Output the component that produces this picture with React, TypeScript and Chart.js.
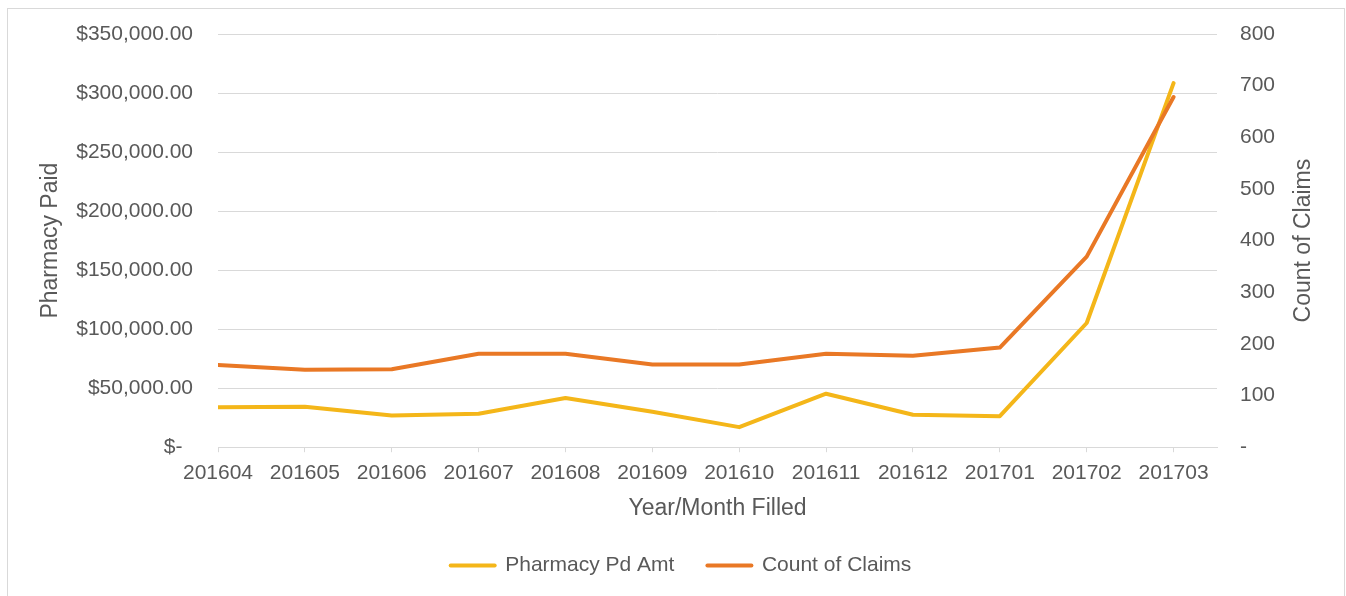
import React, { useEffect, useRef } from 'react';
import { Chart, registerables } from 'chart.js';

Chart.register(...registerables);

// ---- data ----
const months = ['201604', '201605', '201606', '201607', '201608', '201609', '201610', '201611', '201612', '201701', '201702', '201703'];
const pharmacyPdAmt = [33900, 34300, 26900, 28300, 41600, 30000, 17000, 45300, 27500, 26300, 105200, 308400];
const countOfClaims = [159, 150, 151, 181, 181, 160, 160, 181, 177, 193, 369, 678];
const leftAxisMax = 350000;
const leftAxisStep = 50000;
const rightAxisMax = 800;
const rightAxisStep = 100;

const FONT = "'Liberation Sans', Arial, sans-serif";
const TEXT = '#595959';
const GRID = '#D9D9D9';
const YELLOW = '#F4B619';
const ORANGE = '#E97825';

const fmtMoney = (v: number) =>
  v === 0 ? '$-\u2002' : '$' + v.toLocaleString('en-US', { minimumFractionDigits: 2, maximumFractionDigits: 2 });

export default function App() {
  const ref = useRef<HTMLCanvasElement>(null);

  useEffect(() => {
    const rightTitle = {
      id: 'rightTitle',
      afterDraw(chart: any) {
        const { ctx, chartArea } = chart;
        ctx.save();
        ctx.translate(1304, (chartArea.top + chartArea.bottom) / 2);
        ctx.rotate(-Math.PI / 2);
        ctx.font = `23px ${FONT}`;
        ctx.fillStyle = TEXT;
        ctx.textAlign = 'center';
        ctx.textBaseline = 'middle';
        ctx.fillText('Count of Claims', 0, 0);
        ctx.restore();
      },
    };

    const chart = new Chart(ref.current as HTMLCanvasElement, {
      type: 'line',
      data: {
        datasets: [
          {
            label: 'Pharmacy Pd Amt',
            data: pharmacyPdAmt.map((v, i) => ({ x: i, y: v })),
            yAxisID: 'y',
            borderColor: YELLOW,
            backgroundColor: YELLOW,
            borderWidth: 4,
            pointRadius: 0,
            borderJoinStyle: 'round',
            borderCapStyle: 'round',
            order: 1,
          },
          {
            label: 'Count of Claims',
            data: countOfClaims.map((v, i) => ({ x: i, y: v })),
            yAxisID: 'y1',
            borderColor: ORANGE,
            backgroundColor: ORANGE,
            borderWidth: 4,
            pointRadius: 0,
            borderJoinStyle: 'round',
            borderCapStyle: 'round',
            order: 0,
          },
        ],
      },
      options: {
        animation: false,
        responsive: false,
        layout: { padding: { left: 16, right: 0, top: 34, bottom: 10 } },
        plugins: {
          tooltip: { enabled: false },
          legend: {
            position: 'bottom',
            labels: {
              font: { family: FONT, size: 21 },
              color: TEXT,
              padding: 33,
              boxWidth: 44,
              boxHeight: 21,
              usePointStyle: true,
              pointStyleWidth: 44,
              generateLabels: (c: any) =>
                c.data.datasets.map((d: any, i: number) => ({
                  text: d.label,
                  fillStyle: d.borderColor,
                  strokeStyle: d.borderColor,
                  lineWidth: 4,
                  lineCap: 'round',
                  pointStyle: 'line',
                  hidden: false,
                  datasetIndex: i,
                  fontColor: TEXT,
                })),
            },
          },
        },
        scales: {
          x: {
            type: 'linear',
            min: 0,
            max: months.length - 0.5,
            afterBuildTicks: (s: any) => {
              s.ticks = months.map((_, i) => ({ value: i }));
            },
            ticks: {
              callback: (v: any) => months[v] ?? '',
              font: { family: FONT, size: 21 },
              color: TEXT,
              padding: 8,
              maxRotation: 0,
              autoSkip: false,
            },
            grid: { drawOnChartArea: false, drawTicks: true, tickLength: 5, color: GRID },
            border: { display: true, color: GRID, width: 1 },
            title: {
              display: true,
              text: 'Year/Month Filled',
              font: { family: FONT, size: 23 },
              color: TEXT,
              padding: { top: 1, bottom: 0 },
            },
          },
          y: {
            position: 'left',
            min: 0,
            max: leftAxisMax,
            ticks: {
              stepSize: leftAxisStep,
              callback: (v: any) => fmtMoney(Number(v)),
              font: { family: FONT, size: 21 },
              color: TEXT,
              padding: 0,
            },
            grid: { color: GRID, drawTicks: true, tickLength: 25, tickColor: 'rgba(0,0,0,0)', lineWidth: 1 },
            border: { display: false },
            afterFit: (s: any) => {
              s.width = 202;
            },
            title: {
              display: true,
              text: 'Pharmacy Paid',
              font: { family: FONT, size: 23 },
              color: TEXT,
              padding: { top: 21, bottom: 0 },
            },
          },
          y1: {
            position: 'right',
            min: 0,
            max: rightAxisMax,
            ticks: {
              stepSize: rightAxisStep,
              callback: (v: any) => (Number(v) === 0 ? '-' : String(v)),
              font: { family: FONT, size: 21 },
              color: TEXT,
              padding: 0,
            },
            grid: { drawOnChartArea: false, drawTicks: true, tickLength: 23, tickColor: 'rgba(0,0,0,0)' },
            border: { display: false },
            afterFit: (s: any) => {
              s.width = 129;
            },
          },
        },
      },
      plugins: [rightTitle],
    } as any);

    return () => chart.destroy();
  }, []);

  return (
    <div style={{ position: 'absolute', left: 0, top: 0, width: 1346, height: 596, overflow: 'hidden', background: '#fff' }}>
      <div
        style={{
          position: 'absolute',
          left: 7,
          top: 8,
          width: 1336,
          height: 800,
          border: '1px solid #D9D9D9',
        }}
      />
      <canvas
        ref={ref}
        width={1346}
        height={596}
        style={{ position: 'absolute', left: 0, top: 0, display: 'block', width: 1346, height: 596 }}
      />
    </div>
  );
}
